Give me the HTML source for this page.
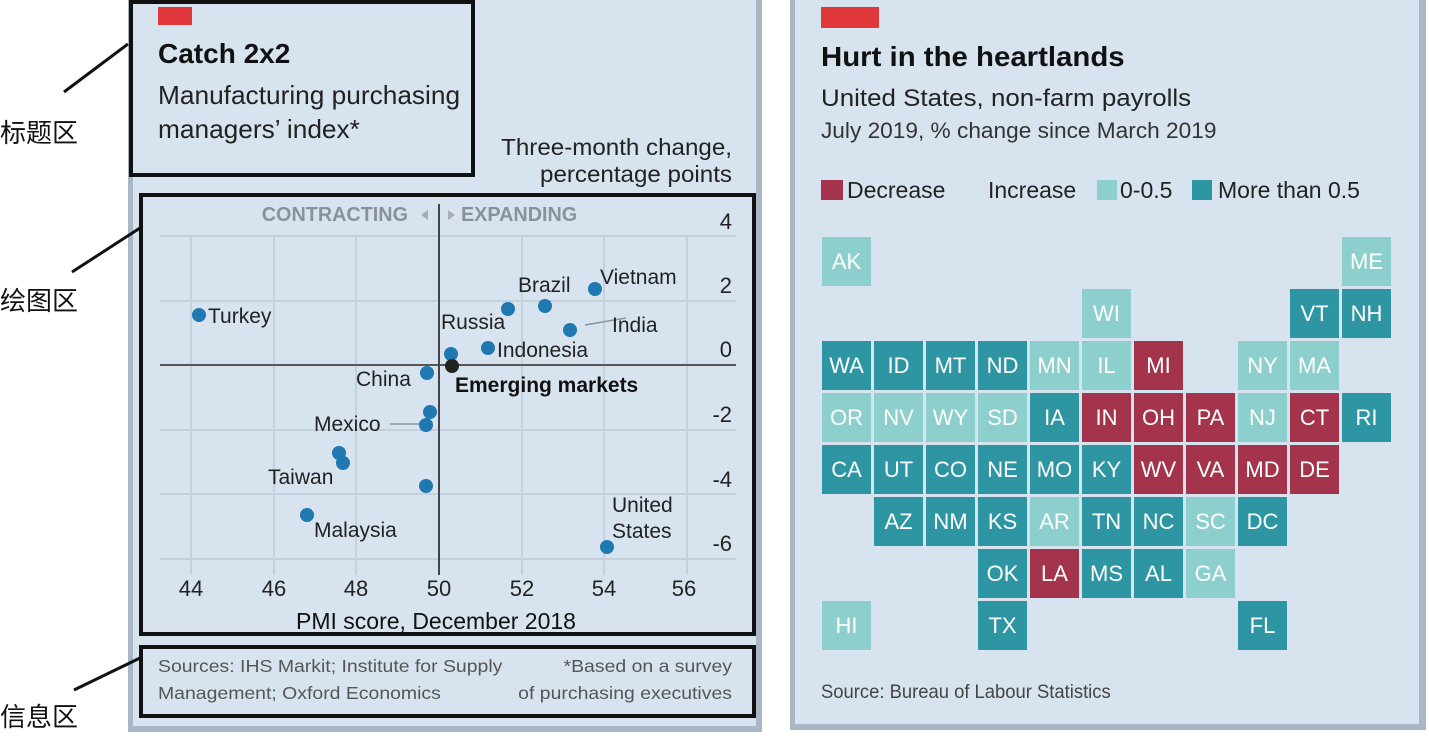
<!DOCTYPE html>
<html><head><meta charset="utf-8"><style>
body{margin:0;width:1429px;height:736px;background:#fff;overflow:hidden}
svg{display:block;font-family:"Liberation Sans","Noto Sans CJK SC",sans-serif}
</style></head><body>
<svg width="1429" height="736" viewBox="0 0 1429 736">
<!-- left panel -->
<rect x="128" y="-2" width="634" height="734" fill="#a9b6c6"/>
<rect x="133" y="0" width="623" height="726" fill="#d7e4ef"/>
<rect x="158" y="7" width="34" height="18" fill="#e0383a"/>
<text x="158" y="63" font-size="28" font-weight="bold" fill="#111" transform="scale(1.0 1)" transform-origin="158 63">Catch 2x2</text>
<text x="158" y="104" font-size="26" fill="#222" transform="scale(1.01 1)" transform-origin="158 104">Manufacturing purchasing</text>
<text x="158" y="138" font-size="26" fill="#222" transform="scale(1.01 1)" transform-origin="158 138">managers’ index*</text>
<text x="732" y="155" font-size="23" fill="#222" text-anchor="end" transform="scale(1.05 1)" transform-origin="732 155">Three-month change,</text>
<text x="732" y="182" font-size="23" fill="#222" text-anchor="end" transform="scale(1.05 1)" transform-origin="732 182">percentage points</text>
<!-- grid -->
<g stroke="#c4d0dc" stroke-width="2">
<line x1="160" y1="236" x2="736" y2="236"/><line x1="160" y1="301" x2="736" y2="301"/>
<line x1="160" y1="430" x2="736" y2="430"/><line x1="160" y1="494" x2="736" y2="494"/><line x1="160" y1="559" x2="736" y2="559"/>
<line x1="191" y1="236" x2="191" y2="575"/><line x1="274" y1="236" x2="274" y2="575"/><line x1="356" y1="236" x2="356" y2="575"/>
<line x1="522" y1="236" x2="522" y2="575"/><line x1="604" y1="236" x2="604" y2="575"/><line x1="687" y1="236" x2="687" y2="575"/>
</g>
<line x1="160" y1="365" x2="736" y2="365" stroke="#555" stroke-width="2"/>
<line x1="439" y1="204" x2="439" y2="575" stroke="#444" stroke-width="2"/>
<text x="408" y="221" font-size="20" font-weight="bold" fill="#8a9299" text-anchor="end" transform="scale(0.99 1)" transform-origin="408 221">CONTRACTING</text>
<text x="461" y="221" font-size="20" font-weight="bold" fill="#8a9299" transform="scale(0.99 1)" transform-origin="461 221">EXPANDING</text>
<polygon points="428,210 428,220 421,215" fill="#aab"/><polygon points="448,210 448,220 455,215" fill="#aab"/>
<g font-size="22" fill="#222" text-anchor="end">
<text x="732" y="229">4</text><text x="732" y="293">2</text><text x="732" y="357">0</text>
<text x="732" y="422">-2</text><text x="732" y="487">-4</text><text x="732" y="551">-6</text>
</g>
<g font-size="22" fill="#222" text-anchor="middle">
<text x="191" y="596">44</text><text x="274" y="596">46</text><text x="356" y="596">48</text><text x="439" y="596">50</text>
<text x="522" y="596">52</text><text x="604" y="596">54</text><text x="684" y="596">56</text>
</g>
<text x="436" y="629" font-size="23" fill="#111" text-anchor="middle" transform="scale(1.0 1)" transform-origin="436 629">PMI score, December 2018</text>
<g stroke="#8a96a2" stroke-width="1.5" fill="none">
<line x1="390" y1="424" x2="426" y2="424"/><line x1="426" y1="412" x2="430" y2="412"/>
<line x1="585" y1="325" x2="626" y2="318"/>
</g>
<g fill="#1f78b0">
<circle cx="199" cy="315" r="7"/><circle cx="545" cy="306" r="7"/><circle cx="595" cy="289" r="7"/>
<circle cx="508" cy="309" r="7"/><circle cx="570" cy="330" r="7"/><circle cx="488" cy="348" r="7"/>
<circle cx="451" cy="354" r="7"/><circle cx="427" cy="373" r="7"/><circle cx="430" cy="412" r="7"/>
<circle cx="426" cy="425" r="7"/><circle cx="339" cy="453" r="7"/><circle cx="343" cy="463" r="7"/>
<circle cx="426" cy="486" r="7"/><circle cx="307" cy="515" r="7"/><circle cx="607" cy="547" r="7"/>
</g>
<circle cx="452" cy="366" r="7" fill="#222"/>
<g font-size="21" fill="#222">
<text x="208" y="323">Turkey</text><text x="518" y="292">Brazil</text><text x="600" y="284">Vietnam</text>
<text x="441" y="329">Russia</text><text x="612" y="332">India</text><text x="497" y="357">Indonesia</text>
<text x="356" y="386">China</text><text x="314" y="431">Mexico</text><text x="268" y="484">Taiwan</text>
<text x="314" y="537">Malaysia</text><text x="612" y="512">United</text><text x="612" y="538">States</text>
</g>
<text x="455" y="392" font-size="21" font-weight="bold" fill="#111">Emerging markets</text>
<text x="158" y="672" font-size="18" fill="#555" transform="scale(1.08 1)" transform-origin="158 672">Sources: IHS Markit; Institute for Supply</text>
<text x="158" y="699" font-size="18" fill="#555" transform="scale(1.08 1)" transform-origin="158 699">Management; Oxford Economics</text>
<text x="732" y="672" font-size="18" fill="#555" text-anchor="end" transform="scale(1.08 1)" transform-origin="732 672">*Based on a survey</text>
<text x="732" y="699" font-size="18" fill="#555" text-anchor="end" transform="scale(1.08 1)" transform-origin="732 699">of purchasing executives</text>
<g fill="none" stroke="#111" stroke-width="4">
<rect x="131" y="2" width="342" height="173"/>
<rect x="141" y="195" width="613" height="439"/>
<rect x="141" y="647" width="613" height="69"/>
</g>
<g stroke="#111" stroke-width="3">
<line x1="64" y1="92" x2="128" y2="44"/><line x1="72" y1="272" x2="140" y2="228"/><line x1="74" y1="690" x2="140" y2="658"/>
</g>
<g font-size="26" fill="#111" font-family="'Noto Sans CJK SC',sans-serif">
<text x="0" y="142">标题区</text><text x="0" y="310">绘图区</text><text x="0" y="726">信息区</text>
</g>
<!-- right panel -->
<rect x="790" y="-2" width="636" height="732" fill="#a9b6c6"/>
<rect x="795" y="0" width="624" height="724" fill="#d7e4ef"/>
<rect x="821" y="7" width="58" height="21" fill="#e0383a"/>
<text x="821" y="66" font-size="28" font-weight="bold" fill="#111" transform="scale(1.05 1)" transform-origin="821 66">Hurt in the heartlands</text>
<text x="821" y="106" font-size="24" fill="#222" transform="scale(1.08 1)" transform-origin="821 106">United States, non-farm payrolls</text>
<text x="821" y="138" font-size="22" fill="#333" transform="scale(1.03 1)" transform-origin="821 138">July 2019, % change since March 2019</text>
<rect x="821" y="180" width="22" height="20" fill="#a3344c"/>
<text x="847" y="198" font-size="23" fill="#222">Decrease</text>
<text x="988" y="198" font-size="23" fill="#222" transform="scale(1.0 1)" transform-origin="988 198">Increase</text>
<rect x="1097" y="180" width="20" height="20" fill="#8ccfcc"/>
<text x="1120" y="198" font-size="23" fill="#222">0-0.5</text>
<rect x="1192" y="180" width="20" height="20" fill="#2e95a3"/>
<text x="1218" y="198" font-size="23" fill="#222">More than 0.5</text>
<g id="tiles" font-size="22" fill="#fff" text-anchor="middle"></g>
<text x="821" y="698" font-size="19" fill="#444" transform="scale(0.97 1)" transform-origin="821 698">Source: Bureau of Labour Statistics</text>
</svg>
<script>
var D="#2e95a3",L="#8ccfcc",R="#a3344c";
var t=[["AK",0,0,L],["ME",10,0,L],["WI",5,1,L],["VT",9,1,D],["NH",10,1,D],
["WA",0,2,D],["ID",1,2,D],["MT",2,2,D],["ND",3,2,D],["MN",4,2,L],["IL",5,2,L],["MI",6,2,R],["NY",8,2,L],["MA",9,2,L],
["OR",0,3,L],["NV",1,3,L],["WY",2,3,L],["SD",3,3,L],["IA",4,3,D],["IN",5,3,R],["OH",6,3,R],["PA",7,3,R],["NJ",8,3,L],["CT",9,3,R],["RI",10,3,D],
["CA",0,4,D],["UT",1,4,D],["CO",2,4,D],["NE",3,4,D],["MO",4,4,D],["KY",5,4,D],["WV",6,4,R],["VA",7,4,R],["MD",8,4,R],["DE",9,4,R],
["AZ",1,5,D],["NM",2,5,D],["KS",3,5,D],["AR",4,5,L],["TN",5,5,D],["NC",6,5,D],["SC",7,5,L],["DC",8,5,D],
["OK",3,6,D],["LA",4,6,R],["MS",5,6,D],["AL",6,6,D],["GA",7,6,L],
["HI",0,7,L],["TX",3,7,D],["FL",8,7,D]];
var g=document.getElementById("tiles"),h="";
t.forEach(function(a){var x=822+a[1]*52,y=237+a[2]*52;
h+='<rect x="'+x+'" y="'+y+'" width="49" height="49" fill="'+a[3]+'"/><text x="'+(x+24.5)+'" y="'+(y+32)+'">'+a[0]+'</text>';});
g.innerHTML=h;
</script>
</body></html>
